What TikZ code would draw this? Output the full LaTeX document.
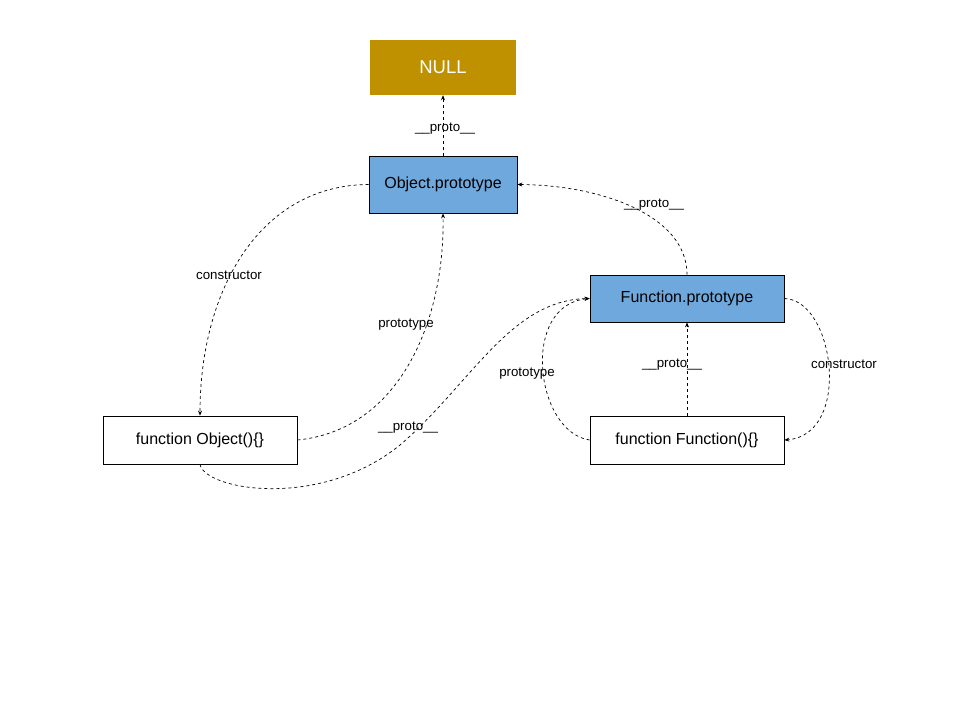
\documentclass[tikz,border=0pt]{standalone}
\usepackage{fontspec}
\setmainfont{Liberation Sans}
\usetikzlibrary{arrows.meta}
\definecolor{nullgold}{HTML}{BF9000}
\definecolor{protoblue}{HTML}{6FA8DC}
\begin{document}
\begin{tikzpicture}[x=1pt,y=-1pt,
  box/.style={draw=black,line width=0.8pt,minimum width=194pt,minimum height=48pt,inner sep=0pt,font=\fontsize{16}{18}\selectfont},
  link/.style={dashed,dash pattern=on 3pt off 3pt,line width=0.7pt,-{Stealth[length=5pt,width=4pt]}},
  lbl/.style={font=\fontsize{13.3}{15}\selectfont,inner sep=0pt}]
\useasboundingbox (0,0) rectangle (960,720);
\node[fill=nullgold,text=white,minimum width=146pt,minimum height=55pt,inner sep=0pt,font=\fontsize{18.5}{20}\selectfont] (null) at (443,67.5) {NULL};
\node[box,fill=protoblue,minimum width=148pt,minimum height=57pt] (op) at (443,184.5) {Object.prototype};
\node[box,fill=protoblue,minimum height=47pt] (fp) at (687,298.5) {Function.prototype};
\node[box] (fo) at (200,440) {function Object()\{\}};
\node[box] (ff) at (687,440) {function Function()\{\}};
% edges
\draw[link] (op.north) -- (null.south);
\node[lbl] (l1) at (445,129) {\_\_proto\_\_};
\draw[link] (op.west) .. controls (260,185) and (200,290) .. (fo.north);
\node[lbl] (l2) at (229,275) {constructor};
\draw[link] (fo.east) .. controls (400,430) and (445,320) .. (op.south);
\node[lbl] (l3) at (406,325) {prototype};
\draw[link] (fo.south) .. controls (205,490) and (320,510) .. (400,445) .. controls (470,385) and (510,300) .. (fp.west);
\node[lbl] (l4) at (408,428) {\_\_proto\_\_};
\draw[link] (fp.north) .. controls (687,215) and (600,185) .. (op.east);
\node[lbl] (l5) at (654,205) {\_\_proto\_\_};
\draw[link] (ff.west) .. controls (535,432) and (520,305) .. (fp.west);
\node[lbl] (l6) at (527,374) {prototype};
\draw[link] (fp.east) .. controls (835,300) and (852,435) .. (ff.east);
\node[lbl] (l7) at (844,364) {constructor};
\draw[link] (ff.north) -- (fp.south);
\node[lbl] (l8) at (672,365) {\_\_proto\_\_};
\end{tikzpicture}
\end{document}
